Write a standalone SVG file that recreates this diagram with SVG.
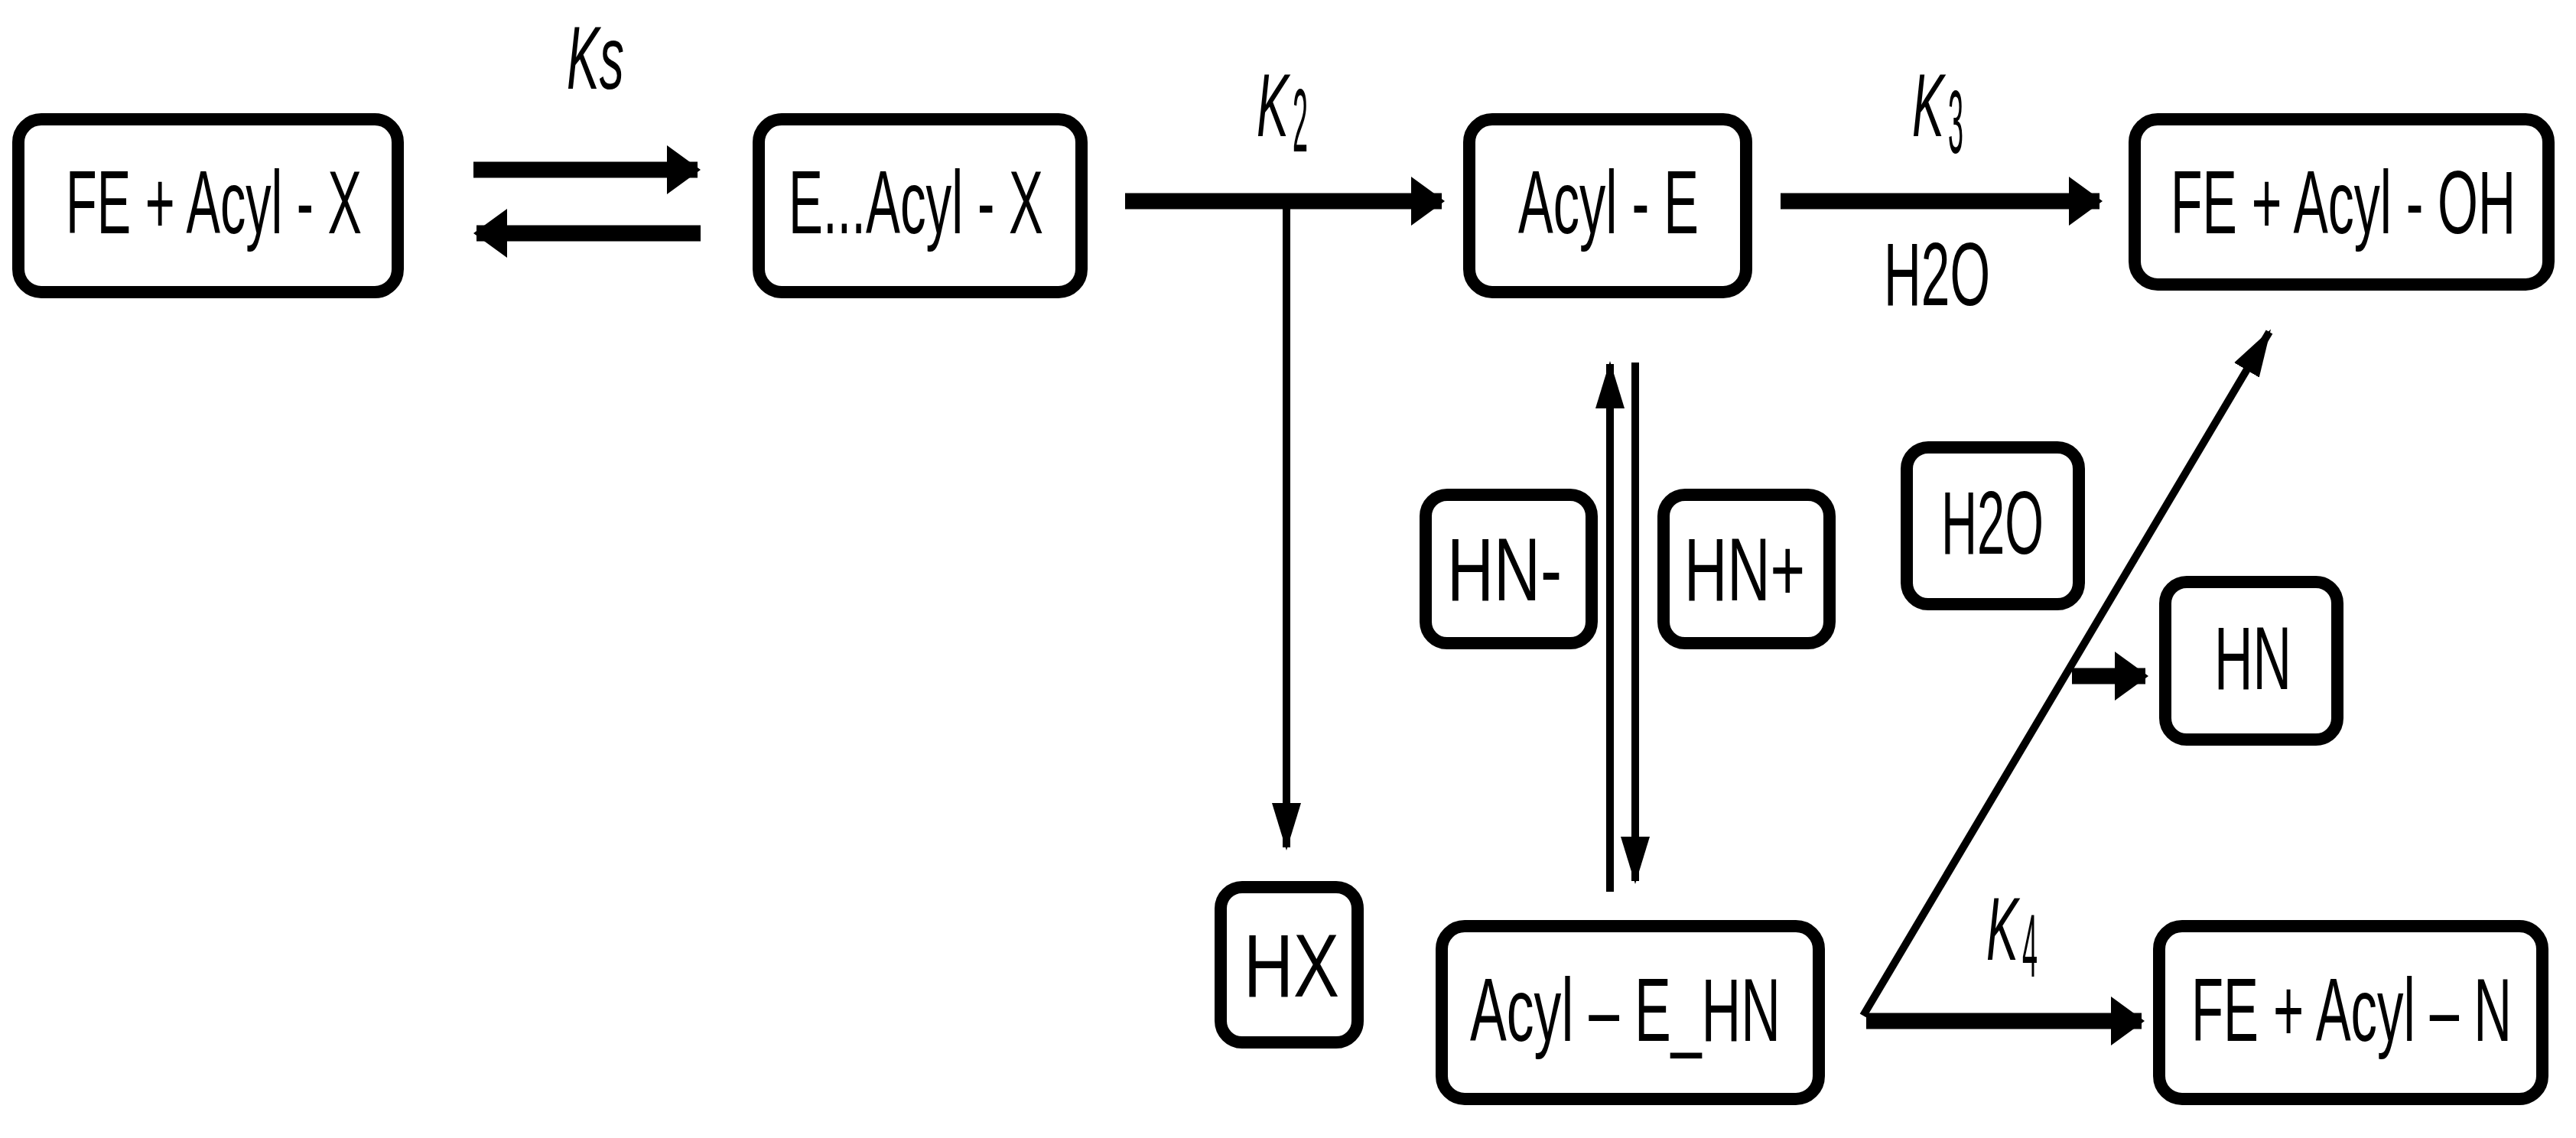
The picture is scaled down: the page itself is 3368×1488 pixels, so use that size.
<svg xmlns="http://www.w3.org/2000/svg" width="3368" height="1488" viewBox="0 0 3368 1488">
<style>
.box{fill:#fff;stroke:#000;stroke-width:16}
.t{font-family:"Liberation Sans",Arial,sans-serif;font-size:116px;fill:#000}
.k{font-family:"Liberation Sans",Arial,sans-serif;font-size:116px;font-style:italic;fill:#000}
.thick{stroke:#000;stroke-width:21;fill:none}
.thin{stroke:#000;stroke-width:10;fill:none}
</style>
<defs>
<marker id="hH" markerUnits="userSpaceOnUse" markerWidth="44" markerHeight="64" refX="40" refY="32" orient="auto"><path d="M0,0 L44,32 L0,64 z" fill="#000"/></marker>
<marker id="hV" markerUnits="userSpaceOnUse" markerWidth="62" markerHeight="38" refX="58" refY="19" orient="auto"><path d="M0,0 L62,19 L0,38 z" fill="#000"/></marker>
</defs>
<g id="connectors">
<line class="thick" x1="619" y1="222" x2="912" y2="222" marker-end="url(#hH)"/>
<line class="thick" x1="916" y1="305" x2="623" y2="305" marker-end="url(#hH)"/>
<line class="thick" x1="1471" y1="263" x2="1885" y2="263" marker-end="url(#hH)"/>
<line class="thin" x1="1682" y1="263" x2="1682" y2="1108" marker-end="url(#hV)"/>
<line class="thick" x1="2328" y1="263" x2="2745" y2="263" marker-end="url(#hH)"/>
<line class="thin" x1="2105" y1="1166" x2="2105" y2="476" marker-end="url(#hV)"/>
<line class="thin" x1="2138" y1="474" x2="2138" y2="1152" marker-end="url(#hV)"/>
<line class="thin" stroke-width="13" x1="2436" y1="1328" x2="2967" y2="434" marker-end="url(#hV)"/>
<line class="thick" x1="2440" y1="1335" x2="2800" y2="1335" marker-end="url(#hH)"/>
<line class="thick" x1="2709" y1="884" x2="2805" y2="884" marker-end="url(#hH)"/>
</g>
<g id="labels">
<text class="k" x="741" y="116" textLength="75" lengthAdjust="spacingAndGlyphs">Ks</text>
<text class="k" x="1643" y="178" textLength="42" lengthAdjust="spacingAndGlyphs">K</text><text class="t" x="1690" y="198" font-size="56" textLength="20" lengthAdjust="spacingAndGlyphs">2</text>
<text class="k" x="2500" y="178" textLength="42" lengthAdjust="spacingAndGlyphs">K</text><text class="t" x="2547" y="200" font-size="56" textLength="20" lengthAdjust="spacingAndGlyphs">3</text>
<text class="t" x="2463" y="399" textLength="139" lengthAdjust="spacingAndGlyphs">H2O</text>
<text class="k" x="2597" y="1255" textLength="42" lengthAdjust="spacingAndGlyphs">K</text><text class="t" x="2644" y="1277" font-size="56" textLength="20" lengthAdjust="spacingAndGlyphs">4</text>
</g>
<g id="n1"><rect class="box" x="24" y="156" width="496" height="226" rx="30"/><text class="t" x="86" y="305" textLength="387" lengthAdjust="spacingAndGlyphs">FE + Acyl - X</text></g>
<g id="n2"><rect class="box" x="992" y="156" width="422" height="226" rx="30"/><text class="t" x="1031" y="305" textLength="333" lengthAdjust="spacingAndGlyphs">E...Acyl - X</text></g>
<g id="n3"><rect class="box" x="1921" y="156" width="362" height="226" rx="30"/><text class="t" x="1985" y="305" textLength="236" lengthAdjust="spacingAndGlyphs">Acyl - E</text></g>
<g id="n4"><rect class="box" x="2791" y="156" width="541" height="216" rx="30"/><text class="t" x="2838" y="305" textLength="451" lengthAdjust="spacingAndGlyphs">FE + Acyl - OH</text></g>
<g id="n5"><rect class="box" x="2493" y="585" width="225" height="205" rx="28"/><text class="t" x="2538" y="724" textLength="134" lengthAdjust="spacingAndGlyphs">H2O</text></g>
<g id="n6"><rect class="box" x="1864" y="647" width="217" height="194" rx="28"/><text class="t" x="1892" y="785" textLength="150" lengthAdjust="spacingAndGlyphs">HN-</text></g>
<g id="n7"><rect class="box" x="2175" y="647" width="217" height="194" rx="28"/><text class="t" x="2202" y="785" textLength="158" lengthAdjust="spacingAndGlyphs">HN+</text></g>
<g id="n8"><rect class="box" x="2831" y="761" width="225" height="206" rx="28"/><text class="t" x="2895" y="901" textLength="101" lengthAdjust="spacingAndGlyphs">HN</text></g>
<g id="n9"><rect class="box" x="1596" y="1160" width="179" height="203" rx="28"/><text class="t" x="1626" y="1303" textLength="125" lengthAdjust="spacingAndGlyphs">HX</text></g>
<g id="n10"><rect class="box" x="1885" y="1211" width="493" height="226" rx="30"/><text class="t" x="1922" y="1361" textLength="406" lengthAdjust="spacingAndGlyphs">Acyl – E_HN</text></g>
<g id="n11"><rect class="box" x="2823" y="1211" width="501" height="226" rx="30"/><text class="t" x="2865" y="1361" textLength="419" lengthAdjust="spacingAndGlyphs">FE + Acyl – N</text></g>
</svg>
